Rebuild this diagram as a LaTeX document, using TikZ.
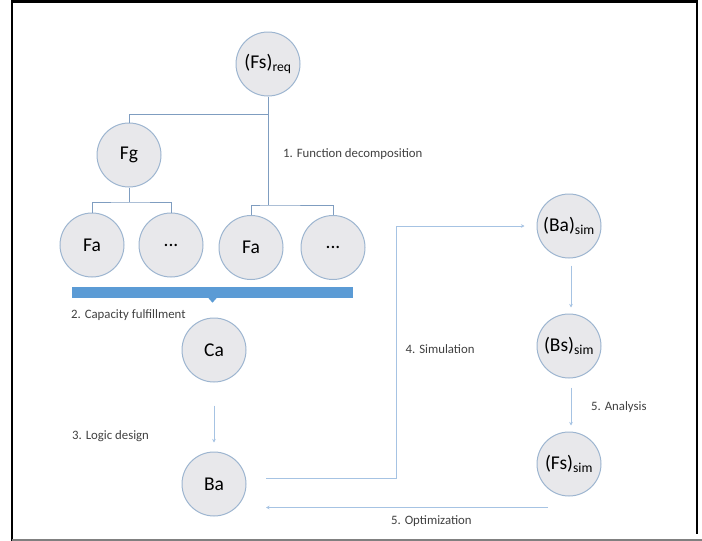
\documentclass[tikz,border=0pt]{standalone}
\usepackage{fontspec}
\setmainfont{Carlito}
\usetikzlibrary{arrows.meta}
\definecolor{circfill}{HTML}{E8E8EB}
\definecolor{circline}{HTML}{9DB5D0}
\definecolor{treeline}{HTML}{7F9DC0}
\definecolor{arrline}{HTML}{A6C3E3}
\definecolor{barblue}{HTML}{5B9BD5}
\definecolor{txt}{HTML}{404040}
\tikzset{
  circ/.style={circle, draw=circline, line width=1pt, fill=circfill, minimum size=64pt, inner sep=0pt, text=black, font=\fontsize{19.5}{22}\selectfont},
  tree/.style={draw=treeline, line width=1pt},
  arr/.style={draw=arrline, line width=0.9pt, -{Stealth[length=3.5pt,width=3.5pt]}},
  lbl/.style={anchor=west, inner sep=0pt, text=txt, font=\fontsize{12.8}{15}\selectfont},
}
\begin{document}
\begin{tikzpicture}[x=1pt,y=-1pt]
\useasboundingbox (0,0) rectangle (702,541);
% frame
\draw[black, line width=2.5pt] (12,541) -- (12,1.25) -- (697,1.25) -- (697,534);
\draw[gray, line width=1.5pt] (12,540) -- (702,540);
% nodes
\node[circ] (req) at (268,64) {(Fs)\textsubscript{req}};
\node[circ] (Fg) at (129,155) {Fg};
\node[circ] (Fa1) at (92,245) {Fa};
\node[circ] (d1) at (171,245) {...};
\node[circ] (Fa2) at (251,247.5) {Fa};
\node[circ] (d2) at (333,247.5) {...};
\node[circ] (Ca) at (214,350) {Ca};
\node[circ] (Ba) at (214,484) {Ba};
\node[circ] (Basim) at (569,226) {(Ba)\textsubscript{sim}};
\node[circ] (Bssim) at (569,346) {(Bs)\textsubscript{sim}};
\node[circ] (Fssim) at (569,464) {(Fs)\textsubscript{sim}};
% bar
\node[fill=barblue, minimum width=281pt, minimum height=11pt, inner sep=0pt] (bar) at (212.5,292.5) {};
\fill[barblue] ([xshift=-4pt]bar.south) -- ([xshift=4pt]bar.south) -- ([yshift=-4.5pt]bar.south) -- cycle;
% tree
\coordinate (j1) at (268,114);
\coordinate (j2) at (268,205);
\coordinate (j3) at (129,202);
\draw[tree] (req.south) -- (j2);
\draw[tree] (j1) -| (Fg.north);
\draw[tree] (Fg.south) -- (j3);
\draw[tree] (Fa1.north) |- (j3) -| (d1.north);
\draw[tree] (Fa2.north) |- (j2) -| (d2.north);
% arrows
\draw[arr, shorten <=23pt, shorten >=9pt] (Ca.south) -- (Ba.north);
\coordinate (s0) at (266,478.5);
\coordinate (s1) at (396.5,478.5);
\coordinate (s2) at (396.5,226);
\draw[arr, shorten >=12pt] (s0) -- (s1) -- (s2) -- (Basim.west);
\draw[arr, shorten <=7pt, shorten >=6pt] ([xshift=2pt]Basim.south) -- ([xshift=2pt]Bssim.north);
\draw[arr, shorten <=9pt, shorten >=6pt] ([xshift=2pt]Bssim.south) -- ([xshift=2pt]Fssim.north);
\coordinate (o0) at (548,507.5);
\coordinate (o1) at (266,507.5);
\draw[arr] (o0) -- (o1);
% labels
\node[lbl] (l1) at (283,154) {1. Function decomposition};
\node[lbl] (l2) at (71,315) {2. Capacity fulfillment};
\node[lbl] (l3) at (72,436) {3. Logic design};
\node[lbl] (l4) at (405.5,349) {4. Simulation};
\node[lbl] (l5) at (591,407) {5. Analysis};
\node[lbl] (l6) at (391,521) {5. Optimization};
\end{tikzpicture}
\end{document}
